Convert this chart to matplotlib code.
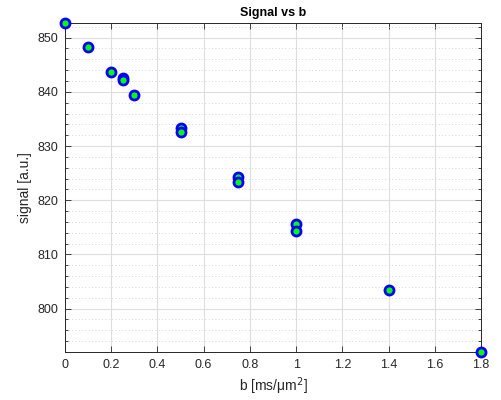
import matplotlib
matplotlib.use("Agg")
import matplotlib.pyplot as plt
from matplotlib.ticker import MultipleLocator

# b-values [ms/um^2] and measured signal [a.u.]
b_values = [0.0, 0.1, 0.2, 0.25, 0.25, 0.3, 0.5, 0.5, 0.75, 0.75, 1.0, 1.0, 1.4, 1.8]
signal = [852.7, 848.2, 843.7, 842.5, 842.1, 839.4, 833.3, 832.5, 824.3, 823.3,
          815.6, 814.3, 803.4, 792.0]

x_ticks = [0, 0.2, 0.4, 0.6, 0.8, 1.0, 1.2, 1.4, 1.6, 1.8]
x_tick_labels = ["0", "0.2", "0.4", "0.6", "0.8", "1", "1.2", "1.4", "1.6", "1.8"]
y_ticks = [800, 810, 820, 830, 840, 850]

plt.rcParams["font.family"] = ["Liberation Sans", "DejaVu Sans"]

fig = plt.figure(figsize=(5.01, 4.0), dpi=100)
ax = fig.add_axes([0.1297, 0.12, 0.8303, 0.8225])

ax.plot(b_values, signal, linestyle="none", marker="o", markersize=6.5,
        markerfacecolor="#00ff00", markeredgecolor="#0000ff",
        markeredgewidth=2, clip_on=False, zorder=5)

ax.set_xlim(min(b_values), max(b_values))
ax.set_ylim(min(signal), max(signal))
ax.set_xticks(x_ticks)
ax.set_xticklabels(x_tick_labels)
ax.set_yticks(y_ticks)
ax.yaxis.set_minor_locator(MultipleLocator(2))

ax.grid(True, which="major", color="#dedede", linewidth=0.8)
ax.grid(True, which="minor", axis="y", color="#c8c8c8", linestyle=(0, (1, 3)), linewidth=0.6)
ax.set_axisbelow(True)

ax.tick_params(which="both", direction="in", top=True, right=True,
               colors="#262626", labelsize=9, labelcolor="#262626")
ax.tick_params(which="major", length=4, width=0.6, pad=5)
ax.tick_params(which="minor", length=2, width=0.6)
for spine in ax.spines.values():
    spine.set_color("#262626")
    spine.set_linewidth(0.7)

ax.set_title("Signal vs b", fontsize=9, fontweight="bold", pad=5)
ax.set_xlabel("b [ms/\u03bcm$^2$]", fontsize=10, color="#262626", labelpad=3)
ax.set_ylabel("signal [a.u.]", fontsize=10, color="#262626")

fig.savefig("out.png", dpi=100)
plt.close(fig)
